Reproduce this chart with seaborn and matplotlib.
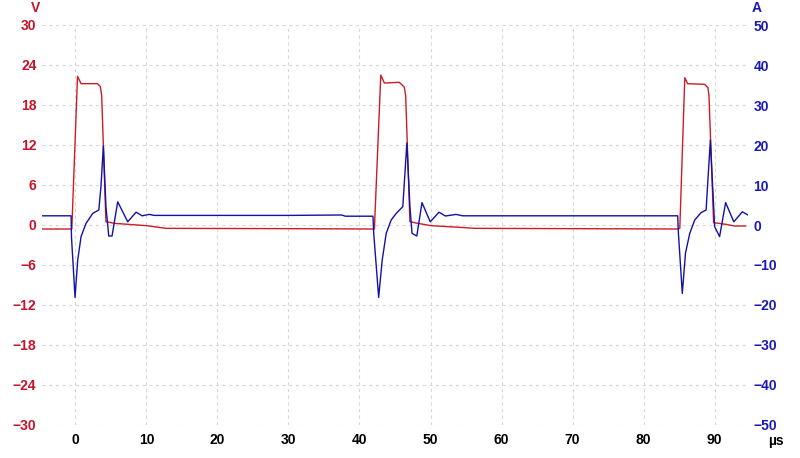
import matplotlib
matplotlib.use("Agg")
import matplotlib.pyplot as plt
import seaborn as sns
import pandas as pd

# voltage trace (µs, V)
volt_t = [-4.7, -0.5, 0.3, 0.8, 3.1, 3.5, 3.7, 4.3, 5.5, 10.0, 12.8, 30.0, 41.9,
          42.1, 43.0, 43.5, 45.6, 46.3, 46.5, 47.1, 48.2, 50.1, 54.1, 56.2, 84.8,
          85.1, 85.8, 86.2, 88.6, 89.05, 89.2, 89.86, 91.6, 92.8, 94.4]
volt_v = [-0.6, -0.6, 22.3, 21.2, 21.2, 20.8, 19.5, 0.5, 0.25, -0.1, -0.5, -0.55, -0.6,
          -0.6, 22.5, 21.3, 21.4, 20.7, 19.5, 0.5, 0.25, -0.1, -0.35, -0.5, -0.6,
          -0.5, 22.1, 21.2, 21.1, 20.6, 19.5, 0.35, 0.1, -0.15, -0.15]

# current trace (µs, A)
curr_t = [-4.7, -0.6, -0.55, -0.05, 0.33, 0.8, 1.5, 2.44, 3.3, 3.6, 3.94, 4.3, 4.7,
          5.16, 5.96, 7.37, 8.55, 9.4, 10.4, 11.1, 30.0, 37.5, 38.0, 41.9,
          42.0, 42.7, 43.2, 43.76, 44.46, 45.17, 46.1, 46.67, 47.1, 47.4, 48.07,
          48.8, 49.96, 51.2, 52.1, 53.6, 54.5, 84.8,
          84.9, 85.45, 85.9, 86.5, 87.2, 88.1, 88.8, 89.4, 90.0, 90.7, 91.55,
          92.7, 93.9, 94.7]
curr_a = [2.3, 2.3, -3.0, -18.1, -8.75, -2.9, 0.4, 2.9, 3.75, 9.6, 19.75, 4.6, -2.75,
          -2.75, 5.8, 0.8, 3.2, 2.3, 2.65, 2.4, 2.4, 2.5, 2.2, 2.2,
          -2.0, -18.1, -8.75, -2.1, 1.25, 2.9, 4.6, 20.5, 4.6, -2.1, -2.75,
          5.6, 0.8, 3.2, 2.25, 2.65, 2.3, 2.3,
          -2.0, -17.1, -7.0, -2.1, 1.25, 3.1, 3.75, 21.25, -0.4, -2.9, 5.6,
          0.8, 3.3, 2.5]

x_ticks = [0, 10, 20, 30, 40, 50, 60, 70, 80, 90]
v_ticks = [-30, -24, -18, -12, -6, 0, 6, 12, 18, 24, 30]
a_ticks = [-50, -40, -30, -20, -10, 0, 10, 20, 30, 40, 50]

RED_LINE = "#CC1C26"
BLUE_LINE = "#1212A6"
RED_TXT = "#C41428"
BLUE_TXT = "#1A1AB0"

sns.set_style("white")
plt.rcParams["font.family"] = ["Liberation Sans", "DejaVu Sans"]
plt.rcParams["font.weight"] = "bold"

fig = plt.figure(figsize=(8, 4.58), dpi=100)
ax = fig.add_axes([42 / 800, 33 / 458, 706 / 800, 400 / 458])
ax2 = ax.twinx()

df_v = pd.DataFrame({"t": volt_t, "v": volt_v})
df_a = pd.DataFrame({"t": curr_t, "a": curr_a})

sns.lineplot(data=df_v, x="t", y="v", ax=ax, color=RED_LINE, lw=1.0,
             sort=False, estimator=None)
sns.lineplot(data=df_a, x="t", y="a", ax=ax2, color=BLUE_LINE, lw=1.0,
             sort=False, estimator=None)

ax.set_xlim(-4.7, 94.7)
ax.set_ylim(-30, 30)
ax2.set_ylim(-50, 50)
ax.set_xticks(x_ticks)
ax.set_yticks(v_ticks)
ax2.set_yticks(a_ticks)
ax.set_xlabel("")
ax.set_ylabel("")
ax2.set_ylabel("")

ax.grid(True, color="#D8D8D8", linestyle=(0, (3, 3)), lw=0.8)
ax2.grid(False)
ax.set_axisbelow(True)

for a in (ax, ax2):
    for s in a.spines.values():
        s.set_visible(False)

ax.tick_params(axis="y", length=0, pad=4, labelsize=10, labelcolor=RED_TXT)
ax.tick_params(axis="x", length=0, pad=6, labelsize=10, labelcolor="black")
ax2.tick_params(axis="y", length=0, pad=4, labelsize=10, labelcolor=BLUE_TXT)
for lab in ax.get_xticklabels() + ax.get_yticklabels() + ax2.get_yticklabels():
    lab.set_fontweight("bold")

fig.text(36 / 800, 1 - 8 / 458, "V", color=RED_TXT, fontsize=10,
         fontweight="bold", ha="center", va="center")
fig.text(757 / 800, 1 - 8 / 458, "A", color=BLUE_TXT, fontsize=10,
         fontweight="bold", ha="center", va="center")
fig.text(776 / 800, 1 - 441 / 458, "µs", color="black", fontsize=10,
         fontweight="bold", ha="center", va="center")

fig.savefig("out.png", dpi=100)
